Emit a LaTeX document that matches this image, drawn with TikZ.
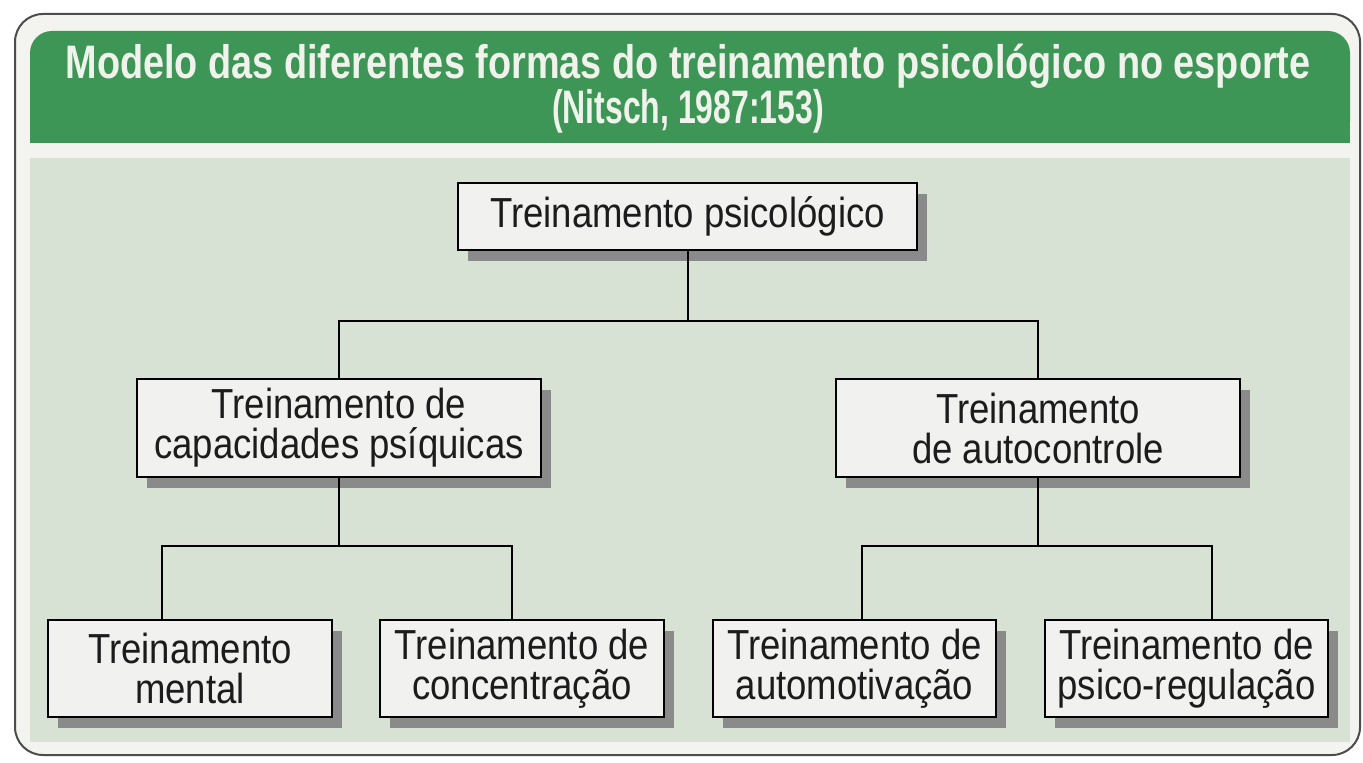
\documentclass[tikz,border=0pt]{standalone}
\usepackage{fontspec}
\usetikzlibrary{shadows}
\setmainfont{Liberation Sans}
\newfontfamily\boxfont[FakeStretch=0.87]{Liberation Sans}
\newfontfamily\titlefont{Liberation Sans}
\definecolor{hdrgreen}{RGB}{62,150,86}
\definecolor{panel}{RGB}{216,226,212}
\definecolor{framefill}{RGB}{243,243,240}
\definecolor{boxfill}{RGB}{241,241,239}
\definecolor{shadowgray}{RGB}{138,138,138}
\definecolor{titlewhite}{RGB}{240,242,236}
\definecolor{inkdark}{RGB}{28,28,28}
\tikzset{
  bx/.style={draw=black, line width=1pt, fill=boxfill, inner sep=0pt, align=center,
    text=inkdark, font=\boxfont\fontsize{21pt}{20pt}\selectfont,
    drop shadow={shadow xshift=5pt, shadow yshift=-5.5pt, fill=shadowgray, opacity=1}},
  conn/.style={draw=black, line width=1pt},
  ttl/.style={anchor=base, text=titlewhite, inner sep=0pt}
}
\begin{document}
\begin{tikzpicture}[x=0.5pt,y=-0.5pt]
\useasboundingbox (0,0) rectangle (1363,763);
\fill[white] (0,0) rectangle (1363,763);
% outer frame
\draw[line width=1pt, draw=black!70, fill=framefill, rounded corners=14pt] (15,14) rectangle (1360,755);
% pale panel
\fill[panel] (30,158) rectangle (1350,742);
% green header
\fill[hdrgreen, rounded corners=11pt] (30,31) rectangle (1350,143);
\fill[hdrgreen] (30,100) rectangle (1350,143);
% title
\node[ttl] (t1) at (688,79) {\resizebox{622.5pt}{\height}{\titlefont\bfseries\fontsize{23.5pt}{23pt}\selectfont Modelo das diferentes formas do treinamento psicológico no esporte}};
\node[ttl] (t2) at (688,124) {\resizebox{136pt}{\height}{\titlefont\bfseries\fontsize{23.5pt}{23pt}\selectfont (Nitsch, 1987:153)}};
% boxes
\node[bx, minimum width=229.5pt, minimum height=33.5pt] (top) at (687.5,216.5) {Treinamento psicológico};
\node[bx, minimum width=202pt, minimum height=49pt] (capac) at (339,428) {Treinamento de\\capacidades psíquicas};
\node[bx, minimum width=202pt, minimum height=49pt] (autoc) at (1038,428) {Treinamento\\de autocontrole};
\node[bx, minimum width=142pt, minimum height=48.5pt] (mental) at (190,668.5) {Treinamento\\mental};
\node[bx, minimum width=142pt, minimum height=48.5pt] (conc) at (522,668.5) {Treinamento de\\concentração};
\node[bx, minimum width=141.5pt, minimum height=48.5pt] (automot) at (854.5,668.5) {Treinamento de\\automotivação};
\node[bx, minimum width=141.5pt, minimum height=48.5pt] (psico) at (1186.5,668.5) {Treinamento de\\psico-regulação};
% connectors
\coordinate (h0) at (0,321);
\coordinate (hl) at (162,546);
\coordinate (hr) at (512,546);
\coordinate (hl2) at (862,546);
\coordinate (hr2) at (1212,546);
\draw[conn] (top.south) -- (top.south |- h0);
\draw[conn] (capac.north) |- (autoc.north |- h0) -- (autoc.north);
\draw[conn] (capac.south) -- (capac.south |- hl);
\draw[conn] (mental.north -| hl) -- (hl) -- (hr) -- (conc.north -| hr);
\draw[conn] (autoc.south) -- (autoc.south |- hl2);
\draw[conn] (automot.north -| hl2) -- (hl2) -- (hr2) -- (psico.north -| hr2);
\end{tikzpicture}
\end{document}
